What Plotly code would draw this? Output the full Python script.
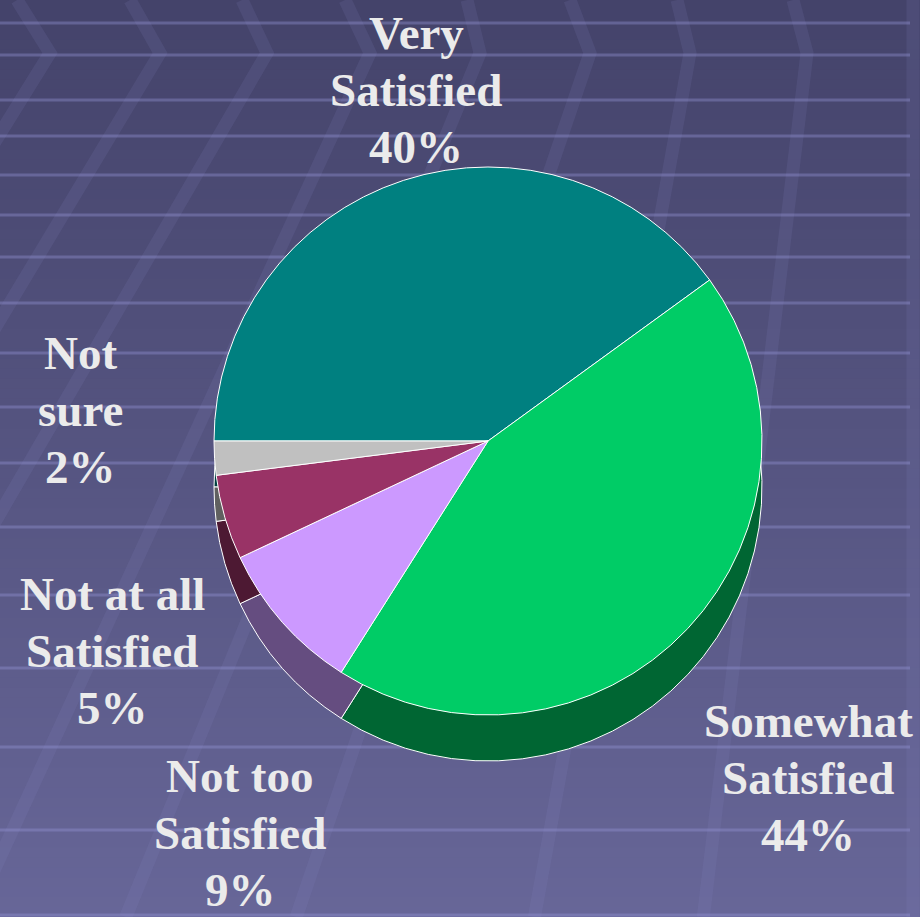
import plotly.graph_objects as go

# ---- data ----
categories = ["Very<br>Satisfied", "Somewhat<br>Satisfied", "Not too<br>Satisfied",
              "Not at all<br>Satisfied", "Not<br>sure"]
values = [40, 44, 9, 5, 2]
top_colors = ["#008080", "#00CC66", "#CC99FF", "#993366", "#C0C0C0"]
side_colors = ["#004040", "#006633", "#654D80", "#4D1933", "#606060"]
# label anchor positions (pixels, middle line centre)
label_px = [416, 808, 240, 112, 80]
label_py = [90, 778, 833, 651, 410]

W, H = 920, 917
LINE = 57

def px(x):
    return x / W

def py(y):
    return 1 - y / H

shapes = []
# background gradient
top_rgb = (68, 67, 106)
bot_rgb = (103, 102, 152)
n = 92
for i in range(n):
    t = i / (n - 1)
    c = tuple(int(round(top_rgb[k] + (bot_rgb[k] - top_rgb[k]) * t)) for k in range(3))
    shapes.append(dict(type="rect", xref="paper", yref="paper", layer="below",
                       x0=0, x1=1, y0=py(i * H / n + H / n + 1), y1=py(i * H / n),
                       fillcolor="rgb(%d,%d,%d)" % c, line=dict(width=0)))

# chevron bands
chev_top = [17, 130, 242, 345, 467, 570, 677, 793]
chev_vtx = [50, 160, 267, 370, 480, 590, 690, 807]
chev_slope = [-0.62, -0.6, -0.58, -0.46, -0.41, -0.34, -0.18, -0.12]
band = "rgba(140,140,200,0.13)"
for tx, vx, s in zip(chev_top, chev_vtx, chev_slope):
    bx = vx + s * (H - 53)
    path = "M %f,%f L %f,%f L %f,%f" % (px(tx), py(0), px(vx), py(53), px(bx), py(H))
    shapes.append(dict(type="path", xref="paper", yref="paper", layer="below", path=path,
                       line=dict(color=band, width=13)))
shapes.append(dict(type="line", xref="paper", yref="paper", layer="below",
                   x0=px(913), x1=px(913), y0=0, y1=1,
                   line=dict(color=band, width=13)))

# horizontal highlight lines
hlines = [23, 55, 100, 136, 175, 215, 257, 303, 353, 407, 463, 527, 595, 668, 747, 830, 915]
for y in hlines:
    shapes.append(dict(type="line", xref="paper", yref="paper", layer="below",
                       x0=0, x1=px(910), y0=py(y), y1=py(y),
                       line=dict(color="rgba(150,150,215,0.38)", width=3)))

cx, cy, r, depth = 488, 441, 274, 46

fig = go.Figure()
fig.add_trace(go.Pie(
    labels=categories, values=values, sort=False, direction="clockwise", rotation=270,
    marker=dict(colors=side_colors, line=dict(color="white", width=1)),
    textinfo="none", hoverinfo="skip", showlegend=False,
    domain=dict(x=[px(cx - r), px(cx + r)], y=[py(cy + depth + r), py(cy + depth - r)])))
fig.add_trace(go.Pie(
    labels=categories, values=values, sort=False, direction="clockwise", rotation=270,
    marker=dict(colors=top_colors, line=dict(color="white", width=1)),
    textinfo="none", showlegend=False,
    domain=dict(x=[px(cx - r), px(cx + r)], y=[py(cy + r), py(cy - r)])))

annotations = []
for lab, v, lx, ly in zip(categories, values, label_px, label_py):
    lines = lab.split("<br>") + ["%d%%" % v]
    for k, line in enumerate(lines):
        annotations.append(dict(
            text="<b>%s</b>" % line, x=px(lx), y=py(ly + (k - 1) * LINE),
            xref="paper", yref="paper", xanchor="center", yanchor="middle",
            showarrow=False, align="center",
            font=dict(family="Liberation Serif, Times New Roman, serif", size=47,
                      color="#EBEBEB")))

fig.update_layout(
    width=W, height=H, margin=dict(l=0, r=0, t=0, b=0),
    paper_bgcolor="#55547F", plot_bgcolor="rgba(0,0,0,0)",
    shapes=shapes, annotations=annotations, showlegend=False)

fig.write_html("out.html", config={"displayModeBar": False},
               post_script="document.body.style.margin='0';document.body.style.padding='0';"
                           "document.body.style.overflow='hidden';")
